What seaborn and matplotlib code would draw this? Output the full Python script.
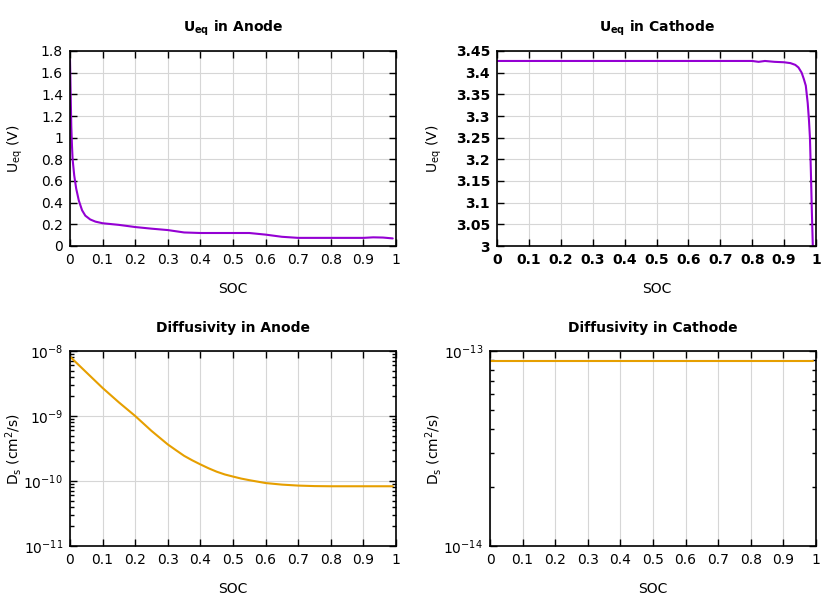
import numpy as np
import pandas as pd
import matplotlib
matplotlib.use("Agg")
import matplotlib.pyplot as plt
import matplotlib.ticker as mticker
import seaborn as sns

# 阳极平衡电位
anode_soc = [0.0, 0.002, 0.004, 0.006, 0.008, 0.013, 0.019, 0.027, 0.037, 0.047, 0.062, 0.078,
             0.1, 0.15, 0.2, 0.25, 0.3, 0.35, 0.4, 0.45, 0.5, 0.55, 0.6, 0.65, 0.7,
             0.8, 0.9, 0.93, 0.96, 0.99]
anode_u = [1.72, 1.4, 1.1, 0.93, 0.8, 0.65, 0.53, 0.42, 0.33, 0.28, 0.245, 0.225,
           0.21, 0.195, 0.175, 0.16, 0.147, 0.125, 0.12, 0.12, 0.12, 0.12, 0.105, 0.085, 0.075,
           0.075, 0.075, 0.08, 0.078, 0.07]

# 阴极平衡电位
cathode_soc = [0.0, 0.2, 0.4, 0.6, 0.8, 0.82, 0.84, 0.87, 0.9, 0.92, 0.935, 0.945, 0.955,
               0.962, 0.968, 0.974, 0.978, 0.981, 0.984, 0.987, 0.99]
cathode_u = [3.427, 3.427, 3.427, 3.427, 3.427, 3.425, 3.427, 3.425, 3.424, 3.422, 3.418, 3.412,
             3.40, 3.385, 3.37, 3.33, 3.29, 3.25, 3.17, 3.08, 3.0]

# 扩散系数
anode_d_soc = [0.0, 0.05, 0.1, 0.15, 0.2, 0.25, 0.3, 0.325, 0.35, 0.375, 0.4, 0.425, 0.45,
               0.475, 0.5, 0.525, 0.55, 0.6, 0.65, 0.7, 0.75, 0.8, 0.9, 0.99]
anode_d = [8.2e-9, 4.7e-9, 2.7e-9, 1.62e-9, 1.0e-9, 5.9e-10, 3.65e-10, 2.98e-10, 2.44e-10,
           2.08e-10, 1.8e-10, 1.57e-10, 1.39e-10, 1.26e-10, 1.17e-10, 1.09e-10, 1.03e-10,
           9.3e-11, 8.8e-11, 8.5e-11, 8.35e-11, 8.3e-11, 8.3e-11, 8.3e-11]
cathode_d_soc = [0.0, 0.5, 0.99]
cathode_d = [8.9e-14, 8.9e-14, 8.9e-14]

purple = '#9400D3'
orange = '#E69F00'

sns.set_style('ticks')
plt.rcParams['font.family'] = ['DejaVu Sans']
plt.rcParams['font.size'] = 10
plt.rcParams['mathtext.default'] = 'regular'
plt.rcParams['text.color'] = 'black'
plt.rcParams['axes.labelcolor'] = 'black'
plt.rcParams['xtick.color'] = 'black'
plt.rcParams['ytick.color'] = 'black'

fig = plt.figure(figsize=(8.4, 6), dpi=100)
ax1 = fig.add_axes([70/840, 1-246/600, 326/840, 195/600])
ax2 = fig.add_axes([497/840, 1-246/600, 319/840, 195/600])
ax3 = fig.add_axes([70/840, 1-546/600, 326/840, 195/600])
ax4 = fig.add_axes([490/840, 1-546/600, 326/840, 195/600])


def log_fmt(v, p):
    e = int(round(np.log10(v)))
    return '10$^{%d}$' % e


def style_ax(ax, title, ylabel, ylab_x):
    ax.set_xlim(0, 1)
    ax.xaxis.set_major_locator(mticker.MultipleLocator(0.1))
    ax.xaxis.set_major_formatter(mticker.FuncFormatter(lambda v, p: f'{v:.10g}'))
    ax.grid(True, color='#d6d6d6', linewidth=0.8)
    ax.set_axisbelow(True)
    ax.tick_params(which='both', direction='in', top=True, right=True, labelsize=10,
                   width=1)
    ax.tick_params(which='major', length=5, pad=5)
    ax.tick_params(which='minor', length=3)
    for s in ax.spines.values():
        s.set_linewidth(1.2)
        s.set_color('black')
    ax.set_title(title, fontweight='bold', fontsize=10, pad=14)
    ax.set_xlabel('SOC', fontsize=10)
    ax.set_ylabel(ylabel, fontsize=10)
    ax.xaxis.set_label_coords(0.5, -0.185)
    ax.yaxis.set_label_coords(ylab_x, 0.5)


df1 = pd.DataFrame({'SOC': anode_soc, 'U': anode_u})
sns.lineplot(data=df1, x='SOC', y='U', ax=ax1, color=purple, linewidth=1.5)
ax1.set_ylim(0, 1.8)
ax1.yaxis.set_major_locator(mticker.MultipleLocator(0.2))
ax1.yaxis.set_major_formatter(mticker.FuncFormatter(lambda v, p: f'{v:.10g}'))
style_ax(ax1, r'$\mathbf{U_{eq}}$ in Anode', r'U$_{eq}$ (V)', -0.138)

df2 = pd.DataFrame({'SOC': cathode_soc, 'U': cathode_u})
sns.lineplot(data=df2, x='SOC', y='U', ax=ax2, color=purple, linewidth=1.5)
ax2.set_ylim(3.0, 3.45)
ax2.yaxis.set_major_locator(mticker.MultipleLocator(0.05))
ax2.yaxis.set_major_formatter(mticker.FuncFormatter(lambda v, p: f'{v:.10g}'))
style_ax(ax2, r'$\mathbf{U_{eq}}$ in Cathode', r'U$_{eq}$ (V)', -0.166)
for t in ax2.get_xticklabels() + ax2.get_yticklabels():
    t.set_fontweight('bold')

df3 = pd.DataFrame({'SOC': anode_d_soc, 'D': anode_d})
sns.lineplot(data=df3, x='SOC', y='D', ax=ax3, color=orange, linewidth=1.5)
ax3.set_yscale('log')
ax3.set_ylim(1e-11, 1e-8)
ax3.yaxis.set_major_formatter(mticker.FuncFormatter(log_fmt))
style_ax(ax3, 'Diffusivity in Anode', r'D$_{s}$ (cm$^{2}$/s)', -0.14)

df4 = pd.DataFrame({'SOC': cathode_d_soc, 'D': cathode_d})
sns.lineplot(data=df4, x='SOC', y='D', ax=ax4, color=orange, linewidth=1.5)
ax4.set_yscale('log')
ax4.set_ylim(1e-14, 1e-13)
ax4.yaxis.set_major_formatter(mticker.FuncFormatter(log_fmt))
ax4.yaxis.set_minor_formatter(mticker.NullFormatter())
style_ax(ax4, 'Diffusivity in Cathode', r'D$_{s}$ (cm$^{2}$/s)', -0.14)

fig.savefig('out.png', dpi=100)
plt.close(fig)
